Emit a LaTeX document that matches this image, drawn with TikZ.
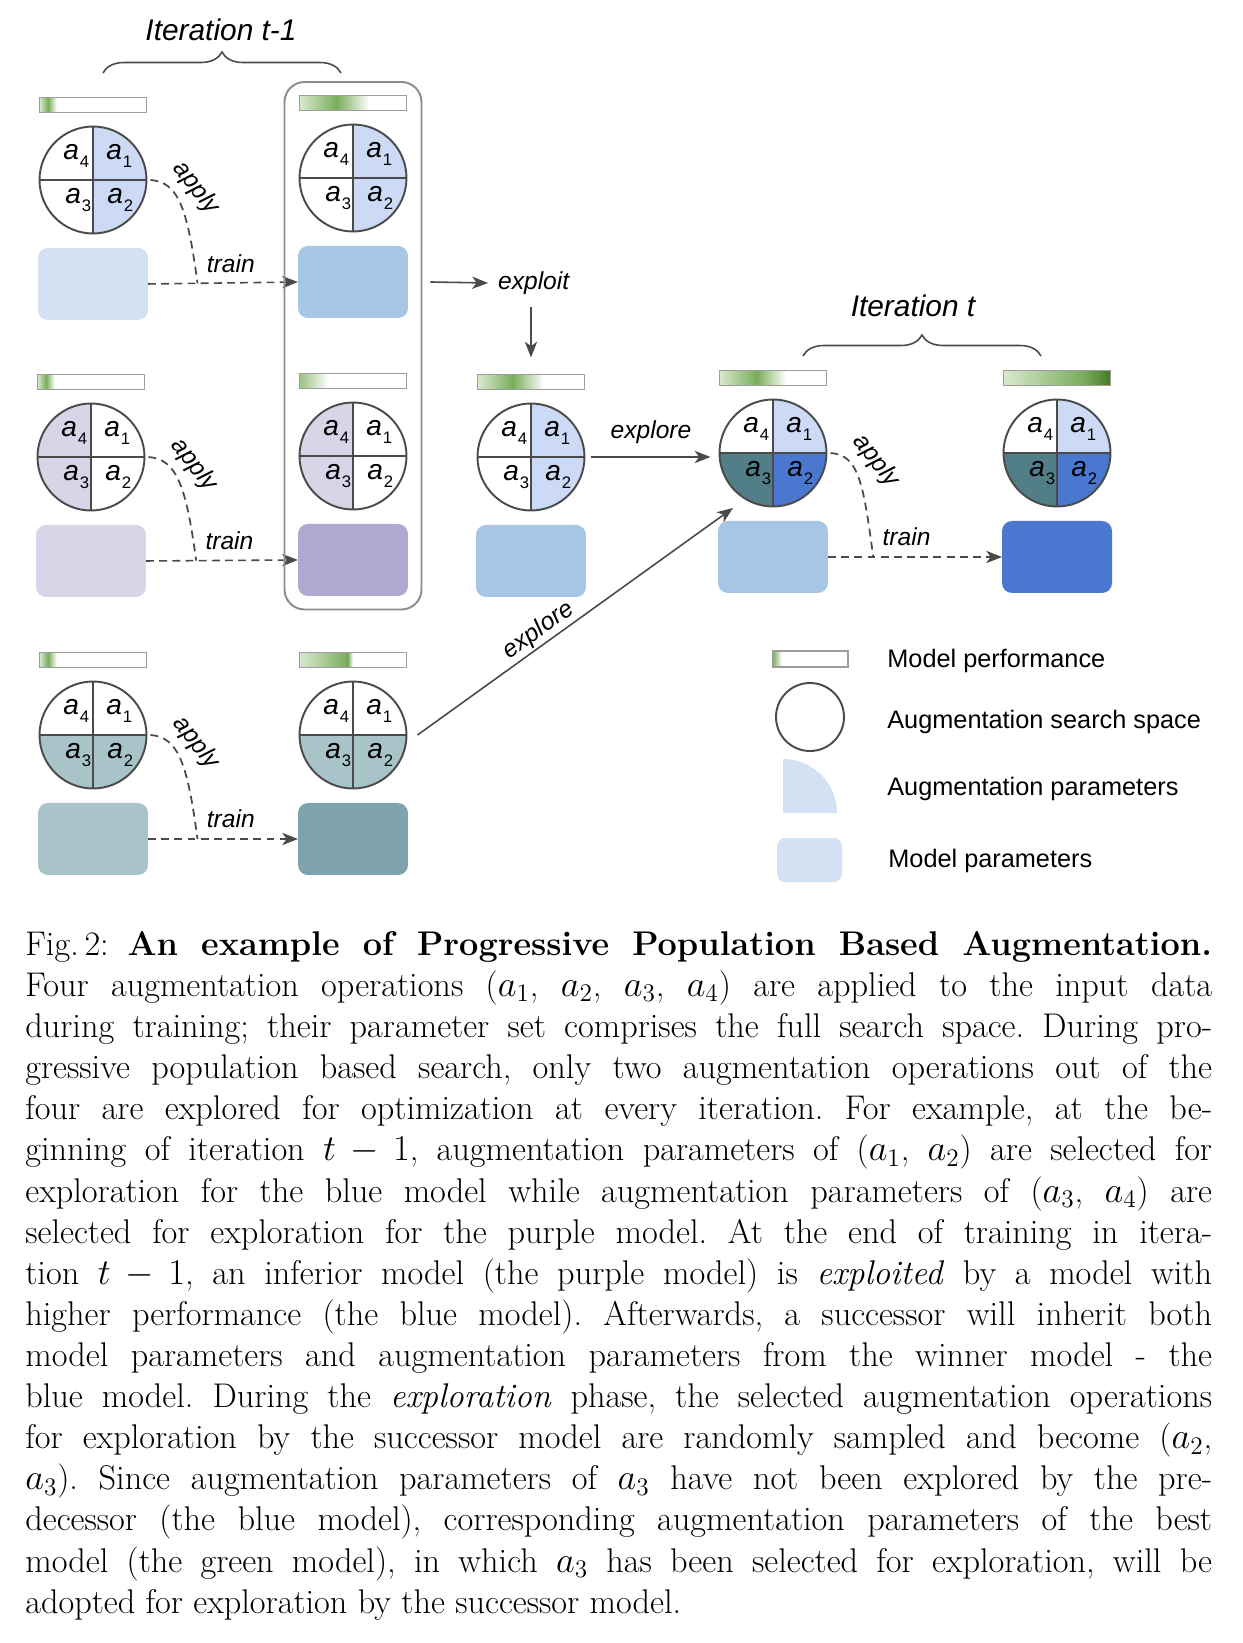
\documentclass[tikz,border=0pt]{standalone}
\usepackage{fontspec}
\usetikzlibrary{positioning, calc, fit, arrows.meta, decorations.pathreplacing}
\newfontfamily\lsans{Liberation Sans}

\definecolor{lineg}{HTML}{4A4A4A}
\definecolor{frameg}{HTML}{8C8C8C}
\definecolor{barg}{HTML}{9C9C9C}
\definecolor{gl}{HTML}{D8E9CD}
\definecolor{gm}{HTML}{79AD5C}
\definecolor{gd}{HTML}{467828}
\definecolor{bl}{HTML}{D3E2F3}
\definecolor{bm}{HTML}{A7C5E5}
\definecolor{bd}{HTML}{4A78D1}
\definecolor{qb}{HTML}{CCDAF5}
\definecolor{pl}{HTML}{D9D4E8}
\definecolor{pd}{HTML}{B0A8D1}
\definecolor{tl}{HTML}{A9C4C9}
\definecolor{td}{HTML}{7FA3AC}
\definecolor{tq}{HTML}{527E88}

\tikzset{
  augc/.style={circle, minimum size=2.14cm, inner sep=0pt, outer sep=0pt},
  cline/.style={draw=lineg, line width=1.1pt},
  alab/.style={anchor=base west, inner sep=0pt, font=\lsans\itshape\fontsize{16}{18}\selectfont},
  mbox/.style={rounded corners=0.2cm, minimum width=2.2cm, minimum height=1.44cm, inner sep=0pt, outer sep=0pt},
  pbar/.style={minimum width=2.14cm, minimum height=0.3cm, inner sep=0pt, outer sep=0pt},
  lab/.style={font=\lsans\itshape\fontsize{14}{16}\selectfont, inner sep=1pt},
  lgtext/.style={anchor=base west, inner sep=0pt, font=\lsans\fontsize{14.4}{17}\selectfont},
  arr/.style={-{Stealth[length=9pt,width=7pt,inset=2.5pt]}, draw=lineg, line width=0.9pt},
  dsh/.style={draw=lineg, line width=1pt, dash pattern=on 4.5pt off 3pt},
  brc/.style={draw=lineg, line width=0.9pt, decorate, decoration={brace, amplitude=0.42cm}},
}

\newcommand{\augr}{1.07cm}
\newcommand{\aop}[1]{a\kern0.5pt\raisebox{-5pt}{\upshape\fontsize{9.5}{10}\selectfont #1}}

% circle of augmentation parameters with the model box below it
\newcommand{\member}[7]{%
  \node[augc] (c#1) at (#2) {};
  \fill[#3] (c#1.center) -- (c#1.east) arc[start angle=0, end angle=90, radius=\augr] -- cycle;
  \fill[#4] (c#1.center) -- (c#1.south) arc[start angle=-90, end angle=0, radius=\augr] -- cycle;
  \fill[#5] (c#1.center) -- (c#1.west) arc[start angle=180, end angle=270, radius=\augr] -- cycle;
  \fill[#6] (c#1.center) -- (c#1.north) arc[start angle=90, end angle=180, radius=\augr] -- cycle;
  \draw[cline] (c#1.north) -- (c#1.south) (c#1.west) -- (c#1.east) (c#1.center) circle[radius=\augr];
  \node[alab] at ($(c#1.center)+(13,-21)$) {\aop{1}};
  \node[alab] at ($(c#1.center)+(14,23)$) {\aop{2}};
  \node[alab] at ($(c#1.center)+(-28,23)$) {\aop{3}};
  \node[alab] at ($(c#1.center)+(-30,-21)$) {\aop{4}};
  \node[mbox, fill=#7, below=0.29cm of c#1] (m#1) {};
}

% performance bar above a circle
\newcommand{\perfbar}[6]{%
  \node[pbar, above=0.28cm of c#1] (b#1) {};
  \coordinate (b#1p) at ($(b#1.south west)!#2!(b#1.south east)$);
  \coordinate (b#1q) at ($(b#1.north west)!#3!(b#1.north east)$);
  \shade[left color=#4, right color=#5] (b#1.south west) rectangle (b#1p |- b#1.north);
  \shade[left color=#5, right color=#6] (b#1p) rectangle (b#1q);
  \draw[barg, line width=1.1pt] (b#1.south west) rectangle (b#1.north east);
}

% apply + train from one member to the next
\newcommand{\trainlink}[3]{%
  \coordinate (j#1) at ($(m#1.east)!#3!(m#2.west)$);
  \draw[dsh] ($(c#1.east)+(4,0)$) .. controls +(28,2) and +(-10,-75) .. (j#1);
  \draw[dsh, arr] (m#1.east) -- (m#2.west);
  \node[lab, rotate=-52] at ($(c#1.center)+(103,8)$) {apply};
  \node[lab, anchor=base west, inner sep=0pt] at ($(j#1)+(9,-11)$) {train};
}

\begin{document}
\begin{tikzpicture}[x=0.02cm, y=-0.02cm]
\fill[white] (0,0) rectangle (1243,1643);
\useasboundingbox (0,0) rectangle (1243,1643);

\member{p1}{93,180}{qb}{qb}{white}{white}{bl}
\member{w1}{353,178}{qb}{qb}{white}{white}{bm}
\member{p2}{91,457}{white}{white}{pl}{pl}{pl}
\member{w2}{353,456}{white}{white}{pl}{pl}{pd}
\member{p3}{93,735}{white}{tl}{tl}{white}{tl}
\member{w3}{353,735}{white}{tl}{tl}{white}{td}
\member{e}{531,457}{qb}{qb}{white}{white}{bm}
\member{s}{773,453}{qb}{bd}{tq}{white}{bm}
\member{n}{1057,453}{qb}{bd}{tq}{white}{bd}

\perfbar{p1}{0.08}{0.16}{gl}{gm}{white}
\perfbar{w1}{0.35}{0.65}{gl}{gm}{white}
\perfbar{p2}{0.08}{0.16}{gl}{gm}{white}
\perfbar{w2}{0.03}{0.27}{gm!55!gl}{gm!55!gl}{white}
\perfbar{p3}{0.08}{0.16}{gl}{gm}{white}
\perfbar{w3}{0.45}{0.5}{gl}{gm}{white}
\perfbar{e}{0.33}{0.62}{gl}{gm}{white}
\perfbar{s}{0.35}{0.62}{gl}{gm}{white}
\perfbar{n}{0.75}{1}{gl}{gm}{gd}

\trainlink{p1}{w1}{0.33}
\trainlink{p2}{w2}{0.33}
\trainlink{p3}{w3}{0.33}
\trainlink{s}{n}{0.26}

\node[draw=frameg, line width=1.1pt, rounded corners=0.4cm, inner sep=0.27cm, fit=(bw1)(mw2)] (grp) {};

\node[lab, anchor=west] (exploit) at (496,283) {exploit};
\draw[arr] ($(grp.east |- mw1.east)+(8,0)$) -- ($(exploit.west)+(-8,0)$);
\draw[arr] ($(exploit.south -| be.north)+(0,10)$) -- ($(be.north)+(0,-17)$);

\draw[arr] ($(ce.east)+(7,0)$) -- ($(ce.east -| cs.west)+(-9,0)$)
  node[lab, midway, above=0.22cm] {explore};
\coordinate (sin) at ($(cs.center)+(-40,55)$);
\draw[arr] ($(cw3.east)+(11,0)$) -- (sin) node[lab, pos=0.41, above, sloped] {explore};

\node[font=\lsans\itshape\fontsize{17}{20}\selectfont] (itprev) at (221,30) {Iteration t-1};
\draw[brc] (103,73) -- (341,73);
\node[font=\lsans\itshape\fontsize{17}{20}\selectfont] (itcur) at (913,306) {Iteration t};
\draw[brc] (803,356) -- (1041,356);

% legend
\node[minimum width=1.5cm, minimum height=0.32cm, inner sep=0pt] (lgbar) at (810.5,659) {};
\shade[left color=gm, right color=white] (lgbar.south west) rectangle ($(lgbar.north west)!0.12!(lgbar.north east)$);
\draw[barg, line width=1.1pt] (lgbar.south west) rectangle (lgbar.north east);
\node[circle, draw=lineg, line width=1.1pt, minimum size=1.36cm, inner sep=0pt] (lgcirc) at (810,717) {};
\coordinate (lgq) at (783,813);
\fill[bl] (lgq) -- ++(0,-54) arc[start angle=90, end angle=0, radius=1.08cm] -- cycle;
\node[fill=bl, rounded corners=0.16cm, minimum width=1.3cm, minimum height=0.88cm, inner sep=0pt] (lgbox) at (809.5,860) {};
\node[lgtext] at (887,667) {Model performance};
\node[lgtext] at (887,728) {Augmentation search space};
\node[lgtext] at (887,795) {Augmentation parameters};
\node[lgtext] at (888,867) {Model parameters};

% caption
\node[anchor=north west, inner sep=0pt, text width=23.74cm, align=justify,
  font=\fontsize{19.5}{23.4}\selectfont] (cap) at (25,931) {\noindent\frenchspacing
Fig.\,2: \textbf{An example of Progressive Population Based Augmentation.}\linebreak
Four augmentation operations ($a_1$, $a_2$, $a_3$, $a_4$) are applied to the input data\linebreak
during training; their parameter set comprises the full search space. During pro-\linebreak
gressive population based search, only two augmentation operations out of the\linebreak
four are explored for optimization at every iteration. For example, at the be-\linebreak
ginning of iteration $t-1$, augmentation parameters of ($a_1$, $a_2$) are selected for\linebreak
exploration for the blue model while augmentation parameters of ($a_3$, $a_4$) are\linebreak
selected for exploration for the purple model. At the end of training in itera-\linebreak
tion $t-1$, an inferior model (the purple model) is \emph{exploited} by a model with\linebreak
higher performance (the blue model). Afterwards, a successor will inherit both\linebreak
model parameters and augmentation parameters from the winner model - the\linebreak
blue model. During the \emph{exploration} phase, the selected augmentation operations\linebreak
for exploration by the successor model are randomly sampled and become ($a_2$,\linebreak
$a_3$). Since augmentation parameters of $a_3$ have not been explored by the pre-\linebreak
decessor (the blue model), corresponding augmentation parameters of the best\linebreak
model (the green model), in which $a_3$ has been selected for exploration, will be\linebreak
adopted for exploration by the successor model.};
\end{tikzpicture}
\end{document}
